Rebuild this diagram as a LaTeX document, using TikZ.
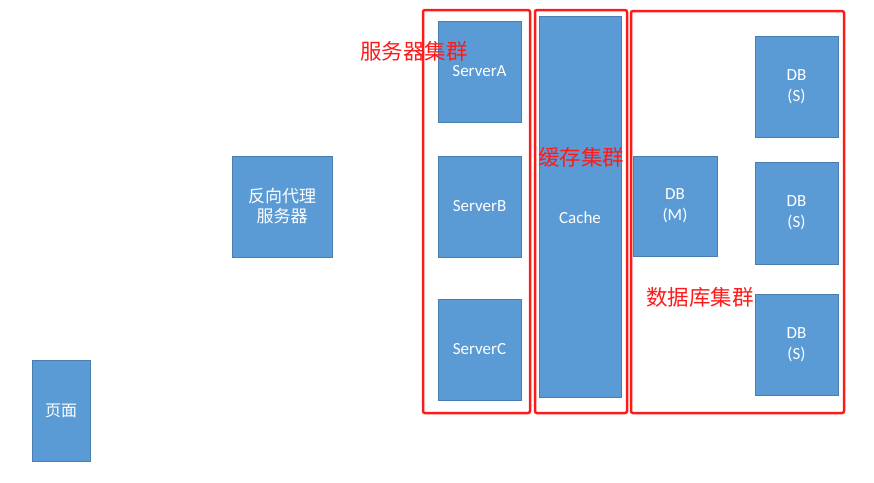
\documentclass[tikz,border=0pt]{standalone}
\usepackage{fontspec}
\setmainfont{Carlito}
\newfontfamily\cjk{Noto Sans CJK SC}
\usetikzlibrary{positioning}
\definecolor{boxblue}{HTML}{5B9BD5}
\definecolor{boxedge}{HTML}{4A7DB0}
\definecolor{markred}{HTML}{FF1A1A}

\begin{document}
\begin{tikzpicture}
	[x=1pt, y=-1pt, inner sep=0pt,
	block/.style={draw=boxedge, fill=boxblue, text=white, align=center, font=\fontsize{17}{21}\selectfont},
	cjkblock/.style={block, font=\cjk\fontsize{17}{20}\selectfont},
	cluster/.style={draw=markred, line width=2.5pt, rounded corners=2pt},
	tag/.style={text=markred, font=\cjk\fontsize{21.5}{24}\selectfont}]
	
	\fill[white] (0,0) rectangle (874,482);
	\useasboundingbox (0,0) rectangle (874,482);
	
	\node[cjkblock, minimum width=58pt, minimum height=101pt,
		font=\cjk\fontsize{16}{20}\selectfont]                   (page)           at (61,410.5)   {页面};
	\node[cjkblock, minimum width=100pt, minimum height=101pt] (proxy)          at (282,206.5)  {反向代理\\服务器};
	
	\node[block, minimum width=83pt, minimum height=101pt]     (server_a)       at (479.5,71.5) {ServerA};
	\node[block, minimum width=83pt, minimum height=101pt]     (server_b)       at (479.5,206.5){ServerB};
	\node[block, minimum width=83pt, minimum height=101pt]     (server_c)       at (479.5,349.5){ServerC};
	
	\node[block, minimum width=82pt, minimum height=381pt,
		label={[white, font=\fontsize{17}{21}\selectfont, yshift=-11pt]center:Cache}] (cache) at (580,206.5) {};
	
	\node[block, minimum width=84pt, minimum height=100pt]     (db_master)      at (675,206)    {DB\\(M)};
	\node[block, minimum width=83pt, minimum height=101pt]     (db_slave_one)   at (796.5,86.5) {DB\\(S)};
	\node[block, minimum width=83pt, minimum height=102pt]     (db_slave_two)   at (796.5,213)  {DB\\(S)};
	\node[block, minimum width=83pt, minimum height=101pt]     (db_slave_three) at (796.5,344.5){DB\\(S)};
	
	\node[cluster, minimum width=107pt, minimum height=403pt]  (server_group)   at (476.5,211.5){};
	\node[cluster, minimum width=92pt, minimum height=403pt]   (cache_group)    at (581,211.5)  {};
	\node[cluster, minimum width=213pt, minimum height=402pt]  (db_group)       at (737.5,212)  {};
	
	\node[tag] (server_tag) at (414,51)  {服务器集群};
	\node[tag] (cache_tag)  at (581,157) {缓存集群};
	\node[tag] (db_tag)     at (700,297) {数据库集群};
\end{tikzpicture}
\end{document}
